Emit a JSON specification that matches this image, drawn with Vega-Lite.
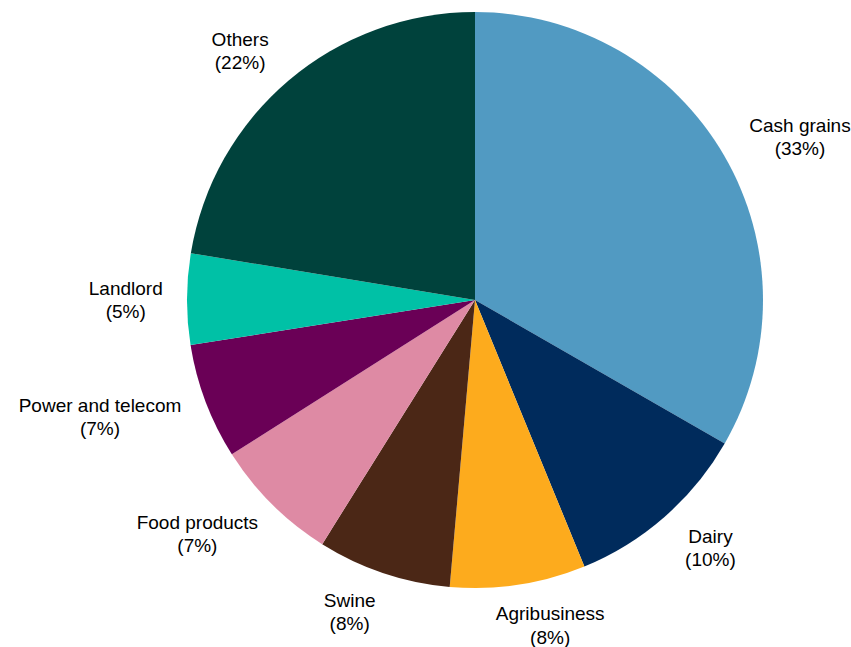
{
  "$schema": "https://vega.github.io/schema/vega-lite/v6.json",
  "width": 752,
  "height": 600,
  "autosize": {"type": "none"},
  "padding": {"left": 99, "top": 0, "right": 0, "bottom": 47},
  "background": "white",
  "config": {"view": {"stroke": null}},
  "data": {
    "values": [
      {"sector": "Cash grains", "share": 33.3, "pct": "(33%)"},
      {"sector": "Dairy", "share": 10.5, "pct": "(10%)"},
      {"sector": "Agribusiness", "share": 7.6, "pct": "(8%)"},
      {"sector": "Swine", "share": 7.5, "pct": "(8%)"},
      {"sector": "Food products", "share": 7.1, "pct": "(7%)"},
      {"sector": "Power and telecom", "share": 6.5, "pct": "(7%)"},
      {"sector": "Landlord", "share": 5.1, "pct": "(5%)"},
      {"sector": "Others", "share": 22.4, "pct": "(22%)"}
    ]
  },
  "transform": [
    {"window": [{"op": "row_number", "as": "idx"}]},
    {"calculate": "[datum.sector, datum.pct]", "as": "lbl"}
  ],
  "encoding": {
    "theta": {"field": "share", "type": "quantitative", "stack": true},
    "order": {"field": "idx", "type": "quantitative"}
  },
  "layer": [
    {
      "mark": {"type": "arc", "outerRadius": 288, "stroke": null},
      "encoding": {
        "color": {
          "field": "sector",
          "type": "nominal",
          "legend": null,
          "scale": {
            "domain": ["Cash grains", "Dairy", "Agribusiness", "Swine", "Food products", "Power and telecom", "Landlord", "Others"],
            "range": ["#519AC2", "#002B5C", "#FDAB1D", "#4B2716", "#DE8AA4", "#6A0056", "#00C1A6", "#00423C"]
          }
        }
      }
    },
    {
      "mark": {
        "type": "text",
        "radius": 310,
        "font": "Liberation Sans",
        "fontSize": 19,
        "lineHeight": 23.5,
        "color": "#000000",
        "align": "center",
        "baseline": "middle",
        "dx": {"expr": "sin(scale('theta', (datum.share_start + datum.share_end) / 2)) * length(datum.sector) * 4.9 + (sin(scale('theta', (datum.share_start + datum.share_end) / 2)) > 0 ? 20 : -20) * abs(cos(scale('theta', (datum.share_start + datum.share_end) / 2)))"},
        "dy": {"expr": "-cos(scale('theta', (datum.share_start + datum.share_end) / 2)) * 18 - 10"}
      },
      "encoding": {
        "text": {"field": "lbl"}
      }
    }
  ]
}
